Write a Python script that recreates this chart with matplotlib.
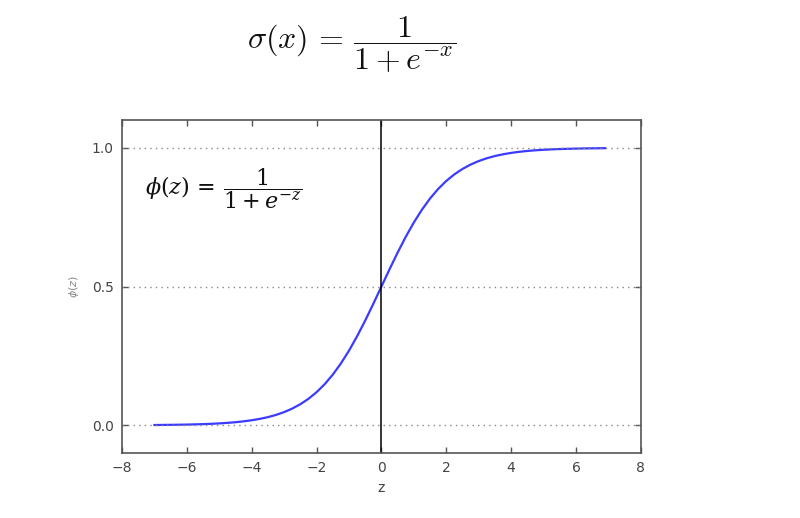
import matplotlib
matplotlib.use("Agg")
import matplotlib.pyplot as plt

# values
z = [-7.0, -6.75, -6.5, -6.25, -6.0, -5.75, -5.5, -5.25, -5.0, -4.75, -4.5, -4.25,
     -4.0, -3.75, -3.5, -3.25, -3.0, -2.75, -2.5, -2.25, -2.0, -1.75, -1.5, -1.25,
     -1.0, -0.75, -0.5, -0.25, 0.0, 0.25, 0.5, 0.75, 1.0, 1.25, 1.5, 1.75, 2.0,
     2.25, 2.5, 2.75, 3.0, 3.25, 3.5, 3.75, 4.0, 4.25, 4.5, 4.75, 5.0, 5.25, 5.5,
     5.75, 6.0, 6.25, 6.5, 6.75, 6.9]
phi = [0.0009, 0.0012, 0.0015, 0.0019, 0.0025, 0.0032, 0.0041, 0.0052, 0.0067,
       0.0086, 0.0110, 0.0141, 0.0180, 0.0230, 0.0293, 0.0373, 0.0474, 0.0601,
       0.0759, 0.0953, 0.1192, 0.1480, 0.1824, 0.2227, 0.2689, 0.3208, 0.3775,
       0.4378, 0.5000, 0.5622, 0.6225, 0.6792, 0.7311, 0.7773, 0.8176, 0.8520,
       0.8808, 0.9047, 0.9241, 0.9399, 0.9526, 0.9627, 0.9707, 0.9770, 0.9820,
       0.9859, 0.9890, 0.9914, 0.9933, 0.9948, 0.9959, 0.9968, 0.9975, 0.9981,
       0.9985, 0.9988, 0.9990]
xticks = [-8, -6, -4, -2, 0, 2, 4, 6, 8]
yticks = [0.0, 0.5, 1.0]

fig = plt.figure(figsize=(8, 5.18), dpi=100)
ax = fig.add_axes([0.1525, 0.1255, 0.6485, 0.6425])

ax.plot(z, phi, color="#3b3bff", lw=1.6)
ax.axvline(0.0, color="black", lw=1.1)
for yt in yticks:
    ax.axhline(yt, color="#888888", ls=(0, (1, 3)), lw=1.0)

ax.set_xlim(-8, 8)
ax.set_ylim(-0.1, 1.1)
ax.set_xticks(xticks)
ax.set_yticks(yticks)
ax.set_xticklabels([("\u2212%d" % -t) if t < 0 else "%d" % t for t in xticks])
ax.set_yticklabels(["0.0", "0.5", "1.0"])
ax.tick_params(direction="in", top=True, right=True, length=4, width=1,
               colors="#555555", labelcolor="#444444", labelsize=10, pad=6)
for s in ax.spines.values():
    s.set_color("#555555")
    s.set_linewidth(1.2)

ax.set_xlabel("z", color="#444444", fontsize=10, labelpad=4)
ax.set_ylabel(r"$\phi(z)$", color="#888888", fontsize=8, labelpad=8)

ax.text(0.045, 0.795, r"$\phi(z)\,=\,\dfrac{1}{1+e^{-z}}$", transform=ax.transAxes,
        fontsize=16, color="#111111", va="center", ha="left",
        math_fontfamily="dejavuserif")

fig.text(0.44, 0.915, r"$\sigma(x)\,=\,\dfrac{1}{1+e^{-x}}$", fontsize=23,
         ha="center", va="center", color="#111111", math_fontfamily="cm")

fig.savefig("out.png", dpi=100, facecolor="white")
